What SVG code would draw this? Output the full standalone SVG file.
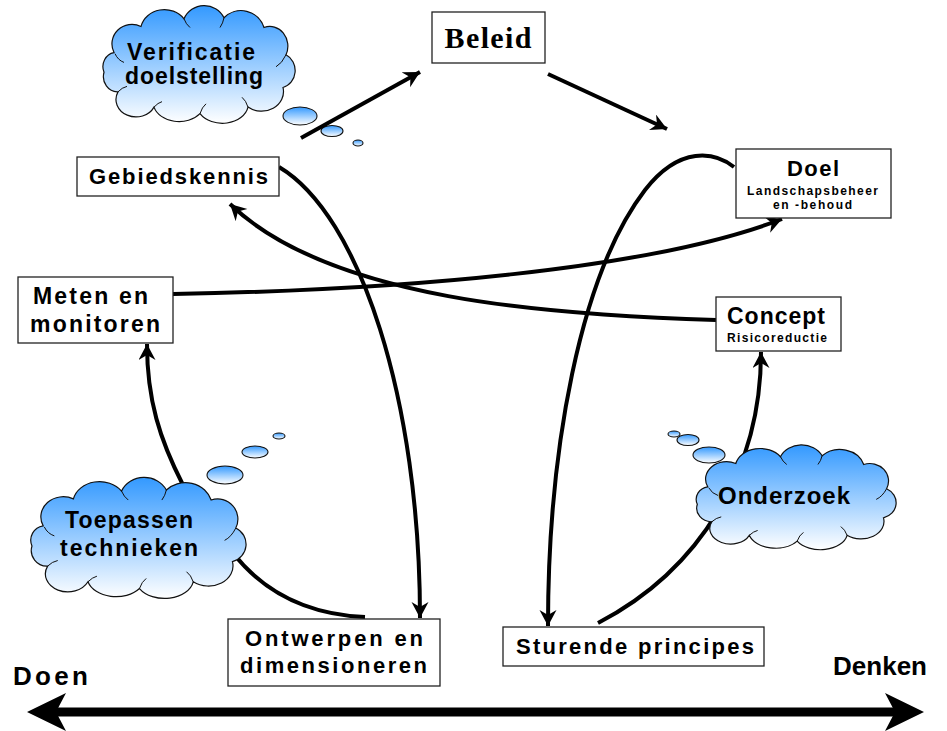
<svg xmlns="http://www.w3.org/2000/svg" xmlns:xlink="http://www.w3.org/1999/xlink" width="947" height="731" viewBox="0 0 947 731">
<style>
.box{fill:#ffffff;stroke:#222222;stroke-width:1.3}
.t{font-family:"Liberation Sans",Arial,sans-serif;font-weight:bold;fill:#000000;text-anchor:middle}
.serif{font-family:"Liberation Serif","Times New Roman",serif;font-weight:bold;fill:#000000;text-anchor:middle}
.conn{fill:none;stroke:#000000;stroke-width:4}
.cloud{fill:url(#cloudGrad);stroke:#111111;stroke-width:1.2}
.crease{fill:none;stroke:#111111;stroke-width:1}
.bubble{fill:url(#cloudGrad);stroke:#111111;stroke-width:1.1}
</style>
<defs>
<linearGradient id="cloudGrad" x1="0" y1="0" x2="0" y2="1">
<stop offset="0" stop-color="#3399ff"/>
<stop offset="1" stop-color="#ffffff"/>
</linearGradient>
<marker id="ah" markerUnits="userSpaceOnUse" markerWidth="18" markerHeight="18" refX="16" refY="8.5" orient="auto">
<path d="M0,0 L16,8.5 L0,17 L5,8.5 Z" fill="#000000"/>
</marker>
<path id="cloudShape" vector-effect="non-scaling-stroke" d="M18,40 A20,18 0 0 1 45,16 A24,20 0 0 1 88,9 A22,20 0 0 1 128,8 A24,22 0 0 1 168,17 A18,18 0 0 1 190,42 A16,16 0 0 1 187,72 A22,18 0 0 1 152,90 A26,18 0 0 1 104,96 A26,18 0 0 1 58,90 A20,16 0 0 1 22,76 A14,14 0 0 1 8,58 A13,13 0 0 1 18,40 Z"/>
<path id="cloudCrease" vector-effect="non-scaling-stroke" d="M19,41 Q22,47 28,49 M190,42 Q186,50 180,53 M104,96 Q106,90 110,87 M152,90 Q150,84 146,81 M88,9 Q90,14 94,17 M128,8 Q127,13 124,17 M58,90 Q62,86 66,85 M22,76 Q26,72 31,71"/>
</defs>
<rect width="947" height="731" fill="#ffffff"/>

<g id="cloud-verificatie">
<use xlink:href="#cloudShape" class="cloud" transform="translate(96,9) scale(1.0,1.09)"/>
<use xlink:href="#cloudCrease" class="crease" transform="translate(96,9) scale(1.0,1.09)"/>
<ellipse class="bubble" cx="300" cy="116" rx="17" ry="9"/>
<ellipse class="bubble" cx="332" cy="131" rx="11" ry="5.5"/>
<ellipse class="bubble" cx="358" cy="143" rx="5" ry="3"/>
<text class="t" x="191" y="60" font-size="23" textLength="128" lengthAdjust="spacing">Verificatie</text>
<text class="t" x="194" y="84" font-size="23" textLength="138" lengthAdjust="spacing">doelstelling</text>
</g>

<g id="connectors">
<path class="conn" d="M301,138 L420,72" marker-end="url(#ah)"/>
<path class="conn" d="M548,74 L667,129" marker-end="url(#ah)"/>
<path class="conn" d="M279,167 C360,215 420,400 420,618" marker-end="url(#ah)"/>
<path class="conn" d="M734,167 C715,152 680,145 645,190 C580,275 548,450 548,626" marker-end="url(#ah)"/>
<path class="conn" d="M173,294 C400,290 650,270 782,219" marker-end="url(#ah)"/>
<path class="conn" d="M716,320 C550,315 330,300 230,204" marker-end="url(#ah)"/>
<path class="conn" d="M183,485 C160,440 147,400 147,344" marker-end="url(#ah)"/>
<path class="conn" d="M233,553 C270,600 320,615 365,617"/>
<path class="conn" d="M598,623 C700,570 761,470 761,352" marker-end="url(#ah)"/>
<line x1="50" y1="712" x2="897" y2="712" stroke="#000000" stroke-width="9"/>
<polygon points="27,712 66,693 56,712 66,731" fill="#000000"/>
<polygon points="924,712 885,693 895,712 885,731" fill="#000000"/>
</g>

<g id="cloud-toepassen">
<use xlink:href="#cloudShape" class="cloud" transform="translate(23,481) scale(1.12,1.12)"/>
<use xlink:href="#cloudCrease" class="crease" transform="translate(23,481) scale(1.12,1.12)"/>
<ellipse class="bubble" cx="225" cy="475" rx="18" ry="9"/>
<ellipse class="bubble" cx="255" cy="452" rx="13" ry="6"/>
<ellipse class="bubble" cx="279" cy="436" rx="6" ry="3"/>
<text class="t" x="129" y="528" font-size="23" textLength="128" lengthAdjust="spacing">Toepassen</text>
<text class="t" x="129" y="556" font-size="23" textLength="138" lengthAdjust="spacing">technieken</text>
</g>

<g id="cloud-onderzoek">
<use xlink:href="#cloudShape" class="cloud" transform="translate(689,448) scale(1.04,0.97)"/>
<use xlink:href="#cloudCrease" class="crease" transform="translate(689,448) scale(1.04,0.97)"/>
<ellipse class="bubble" cx="709" cy="455" rx="16" ry="8"/>
<ellipse class="bubble" cx="688" cy="440" rx="11" ry="5.5"/>
<ellipse class="bubble" cx="674" cy="434" rx="6" ry="3"/>
<text class="t" x="784" y="504" font-size="24" textLength="132" lengthAdjust="spacing">Onderzoek</text>
</g>

<g id="node-beleid">
<rect class="box" x="432" y="12" width="113" height="51"/>
<text class="serif" x="488" y="48" font-size="30" textLength="87" lengthAdjust="spacing">Beleid</text>
</g>

<g id="node-doel">
<rect class="box" x="736" y="149" width="155" height="69"/>
<text class="t" x="813" y="176" font-size="22" textLength="52" lengthAdjust="spacing">Doel</text>
<text class="t" x="812.5" y="195" font-size="12" textLength="131" lengthAdjust="spacing">Landschapsbeheer</text>
<text class="t" x="812.5" y="209" font-size="12" textLength="79" lengthAdjust="spacing">en -behoud</text>
</g>

<g id="node-concept">
<rect class="box" x="716" y="297" width="125" height="54"/>
<text class="t" x="776" y="324" font-size="23" textLength="98" lengthAdjust="spacing">Concept</text>
<text class="t" x="777" y="342" font-size="12" textLength="100" lengthAdjust="spacing">Risicoreductie</text>
</g>

<g id="node-gebiedskennis">
<rect class="box" x="77" y="157" width="202" height="39"/>
<text class="t" x="178.5" y="184" font-size="22" textLength="179" lengthAdjust="spacing">Gebiedskennis</text>
</g>

<g id="node-meten">
<rect class="box" x="18" y="277" width="155" height="66"/>
<text class="t" x="90.5" y="304" font-size="23" textLength="115" lengthAdjust="spacing">Meten en</text>
<text class="t" x="95" y="332" font-size="23" textLength="130" lengthAdjust="spacing">monitoren</text>
</g>

<g id="node-ontwerpen">
<rect class="box" x="228" y="619" width="212" height="67"/>
<text class="t" x="334" y="646" font-size="22" textLength="178" lengthAdjust="spacing">Ontwerpen en</text>
<text class="t" x="333.5" y="673" font-size="22" textLength="187" lengthAdjust="spacing">dimensioneren</text>
</g>

<g id="node-sturende">
<rect class="box" x="503" y="627" width="261" height="39"/>
<text class="t" x="635" y="654" font-size="22" textLength="238" lengthAdjust="spacing">Sturende principes</text>
</g>

<g id="label-doen">
<text class="t" x="50.5" y="685" font-size="26" textLength="75" lengthAdjust="spacing">Doen</text>
</g>
<g id="label-denken">
<text class="t" x="880" y="675" font-size="26" textLength="94" lengthAdjust="spacing">Denken</text>
</g>
</svg>
